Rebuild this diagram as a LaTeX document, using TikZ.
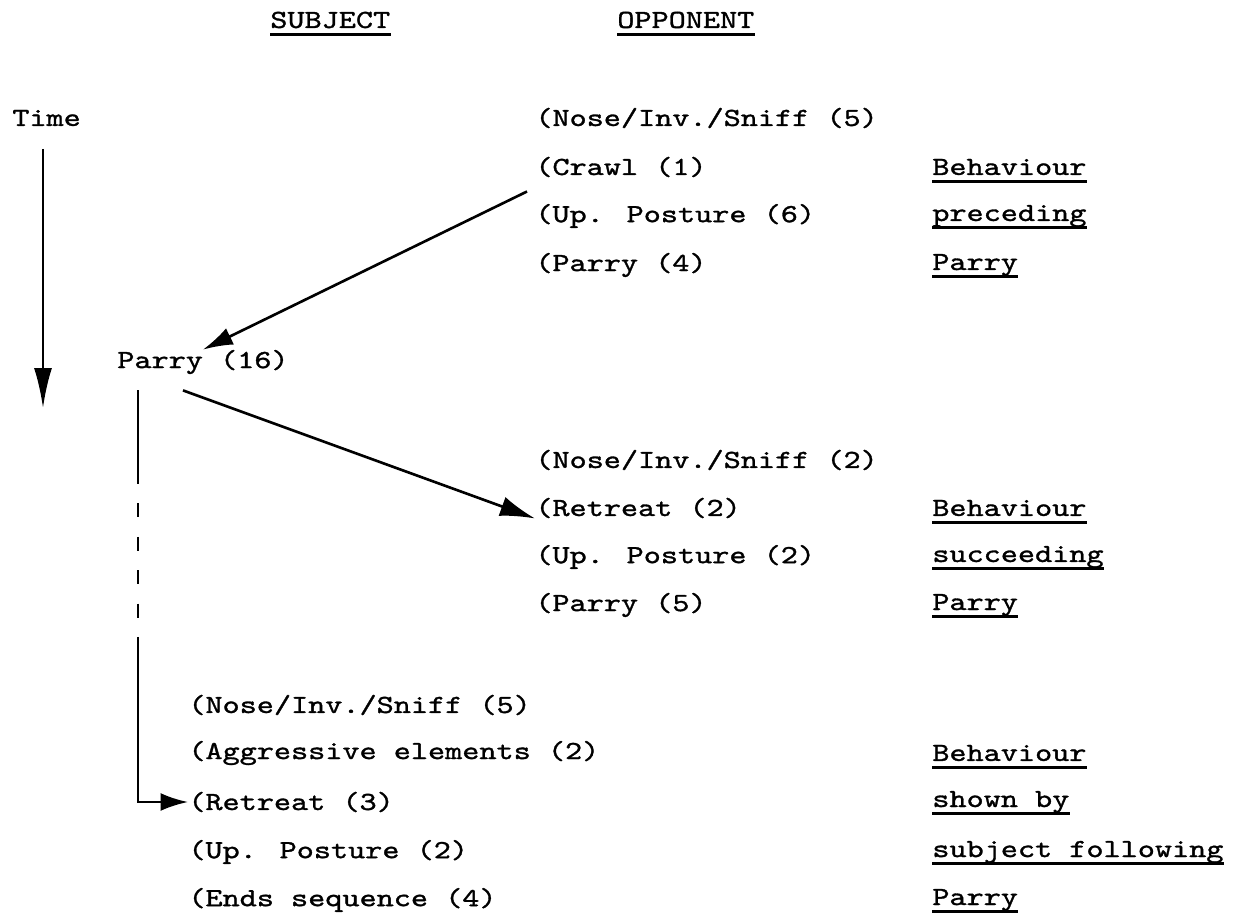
\documentclass[tikz,border=0pt]{standalone}
\usepackage{fontspec}
\newfontfamily\typer[FakeStretch=1.25, FakeBold=1.2]{lmmono10-regular.otf}
\usetikzlibrary{arrows.meta, positioning, calc}

\begin{document}
\begin{tikzpicture}[
    x=0.02cm, y=-0.02cm,
    item/.style={anchor=west, inner sep=0pt, font=\typer\fontsize{14.85}{18}\selectfont},
    link/.style={line width=1.5pt, -{Latex[length=6mm, width=3.6mm]}},
    uline/.style={line width=1.5pt}
]
    \useasboundingbox (0,0) rectangle (1246,918);

    % column heads
    \node[item] (hsub) at (270,20) {SUBJECT};
    \node[item] (hopp) at (617,20) {OPPONENT};
    \node[item] (time) at (12,118) {Time};

    % opponent before the parry
    \node[item] (pre1) at (535,118) {(Nose/Inv./Sniff (5)};
    \node[item] (pre2) at (535,167) {(Crawl (1)};
    \node[item] (pre3) at (535,216) {(Up. Posture (6)};
    \node[item] (pre4) at (535,265) {(Parry (4)};

    \node[item] (rpre1) at (932,167) {Behaviour};
    \node[item] (rpre2) at (932,216) {preceding};
    \node[item] (rpre3) at (932,265) {Parry};

    % the parry
    \node[item] (p16) at (117,362) {Parry (16)};

    % opponent after the parry
    \node[item] (suc1) at (535,460) {(Nose/Inv./Sniff (2)};
    \node[item] (suc2) at (535,508) {(Retreat (2)};
    \node[item] (suc3) at (535,557) {(Up. Posture (2)};
    \node[item] (suc4) at (535,605) {(Parry (5)};

    \node[item] (rsuc1) at (932,508) {Behaviour};
    \node[item] (rsuc2) at (932,557) {succeeding};
    \node[item] (rsuc3) at (932,605) {Parry};

    % subject after the parry
    \node[item] (aft1) at (188,705) {(Nose/Inv./Sniff (5)};
    \node[item] (aft2) at (188,753) {(Aggressive elements (2)};
    \node[item] (aft3) at (188,802) {(Retreat (3)};
    \node[item] (aft4) at (188,852) {(Up. Posture (2)};
    \node[item] (aft5) at (188,900) {(Ends sequence (4)};

    \node[item] (raft1) at (932,753) {Behaviour};
    \node[item] (raft2) at (932,802) {shown by};
    \node[item] (raft3) at (932,852) {subject following};
    \node[item] (raft4) at (932,900) {Parry};

    \foreach \n in {hsub, hopp, rpre1, rpre2, rpre3, rsuc1, rsuc2, rsuc3, raft1, raft2, raft3, raft4}
        \draw[uline] ([yshift=-3.8pt]\n.base west) -- ([yshift=-3.8pt]\n.base east);

    % time axis
    \coordinate (tend) at (43,408);
    \draw[line width=1.5pt, -{Latex[length=8mm, width=3.6mm]}, shorten <=0.45cm] (time.south -| tend) -- (tend);

    % arrows
    \draw[link] ($(pre2.west)!0.5!(pre3.west)+(-8,0)$) -- (p16.north);
    \draw[link, -{Latex[length=7mm, width=4mm]}] ($(p16.south)+(-20,16)$) -- (suc2.south west);

    \coordinate (vtop) at (138,390);
    \coordinate (dash1) at (138,470);
    \coordinate (dash2) at (138,640);
    \draw[line width=1.5pt] (vtop) -- (dash1);
    \draw[line width=1.5pt, dash pattern=on 8pt off 11pt] (dash1) -- (dash2);
    \draw[link, -{Latex[length=5.5mm, width=3.6mm]}] (dash2) -- (vtop |- aft3.west) -- (aft3.west);

\end{tikzpicture}
\end{document}
